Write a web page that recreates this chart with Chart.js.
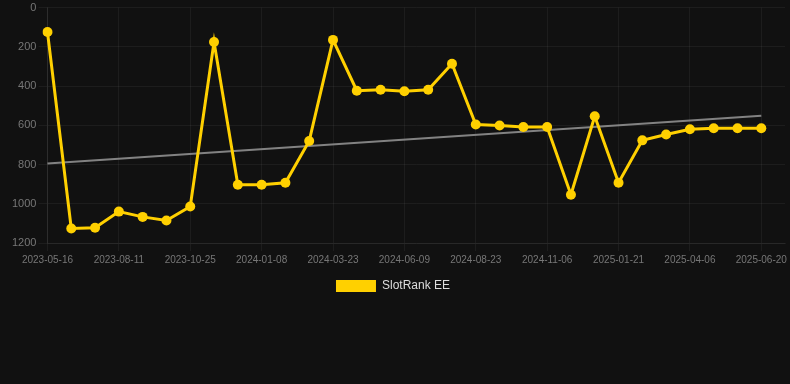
<!DOCTYPE html>
<html>
<head>
<meta charset="utf-8">
<script src="https://cdn.jsdelivr.net/npm/chart.js@4.4.1/dist/chart.umd.min.js"></script>
<style>
  html, body { margin: 0; padding: 0; background: #111111; }
  #wrap { position: relative; width: 790px; height: 302px; }
</style>
</head>
<body>
<div id="wrap"><canvas id="rankChart"></canvas></div>
<script>
// Dates on the x axis (every 3rd one is shown as a tick label)
const dates = [
  '2023-05-16', '2023-06-14', '2023-07-13', '2023-08-11', '2023-09-05', '2023-09-30',
  '2023-10-25', '2023-11-19', '2023-12-14', '2024-01-08', '2024-02-02', '2024-02-27',
  '2024-03-23', '2024-04-19', '2024-05-15', '2024-06-09', '2024-07-04', '2024-07-29',
  '2024-08-23', '2024-09-17', '2024-10-12', '2024-11-06', '2024-12-01', '2024-12-27',
  '2025-01-21', '2025-02-15', '2025-03-12', '2025-04-06', '2025-05-01', '2025-05-26',
  '2025-06-20', '2025-07-15'
];

// Rank values (lower is better, axis is reversed)
const rankEE = [
  125, 1126, 1122, 1040, 1067, 1085, 1014, 176, 903, 903, 893, 680,
  165, 424, 419, 427, 419, 287, 596, 601, 609, 609, 954, 554,
  893, 677, 647, 620, 615, 615, 615, null
];

// Trend line: only its two ends are known
const trendEE = [795].concat(new Array(29).fill(null), [552, null]);

const yTicks = [0, 200, 400, 600, 800, 1000, 1200];

window.onload = () => {
  renderRankChart();
};

function renderRankChart() {
  var ctx = document.getElementById('rankChart').getContext('2d');
  new Chart(ctx, {
    type: 'line',
    data: {
      labels: dates,
      datasets: [{
        label: 'SlotRank EE',
        data: rankEE,
        borderColor: '#ffd000',
        backgroundColor: '#ffd000',
        borderWidth: 3,
        pointRadius: 5,
        pointBorderWidth: 0,
        pointBackgroundColor: '#ffd000',
        tension: 0,
        fill: false
      }, {
        label: 'trend',
        data: trendEE,
        borderColor: 'rgba(150, 150, 150, 0.85)',
        borderWidth: 2,
        pointRadius: 0,
        spanGaps: true,
        fill: false
      }]
    },
    options: {
      responsive: true,
      maintainAspectRatio: false,
      animation: false,
      layout: { autoPadding: false, padding: { top: 0, right: 4, left: 0, bottom: 0 } },
      plugins: {
        tooltip: { enabled: false },
        legend: {
          position: 'bottom',
          labels: {
            color: '#dddddd',
            boxWidth: 40,
            boxHeight: 12,
            padding: 11,
            font: { family: 'Arial, "Liberation Sans", sans-serif', size: 12 },
            filter: (item) => item.text !== 'trend',
            generateLabels: (chart) => {
              const items = Chart.defaults.plugins.legend.labels.generateLabels(chart);
              items.forEach(it => { it.lineWidth = 0; });
              return items;
            }
          }
        }
      },
      scales: {
        x: {
          grid: {
            color: 'rgba(255, 255, 255, 0.05)',
            tickLength: 8
          },
          border: { color: 'rgba(255, 255, 255, 0.05)' },
          ticks: {
            color: '#777777',
            padding: 3,
            maxRotation: 0,
            autoSkip: true,
            maxTicksLimit: 11,
            font: { family: 'Arial, "Liberation Sans", sans-serif', size: 10 }
          }
        },
        y: {
          reverse: true,
          min: yTicks[0],
          max: yTicks[yTicks.length - 1],
          grid: {
            color: 'rgba(255, 255, 255, 0.05)',
            tickLength: 9
          },
          border: { color: 'rgba(255, 255, 255, 0.08)' },
          afterBuildTicks: (axis) => {
            axis.ticks = yTicks.map(v => ({ value: v }));
          },
          // leave some empty room left of the tick labels
          afterFit: (axis) => {
            axis.width += 10;
          },
          ticks: {
            color: '#777777',
            padding: 2,
            callback: (value) => String(value),
            font: { family: 'Arial, "Liberation Sans", sans-serif', size: 11, lineHeight: 1 }
          }
        }
      }
    }
  });
}
</script>
</body>
</html>
